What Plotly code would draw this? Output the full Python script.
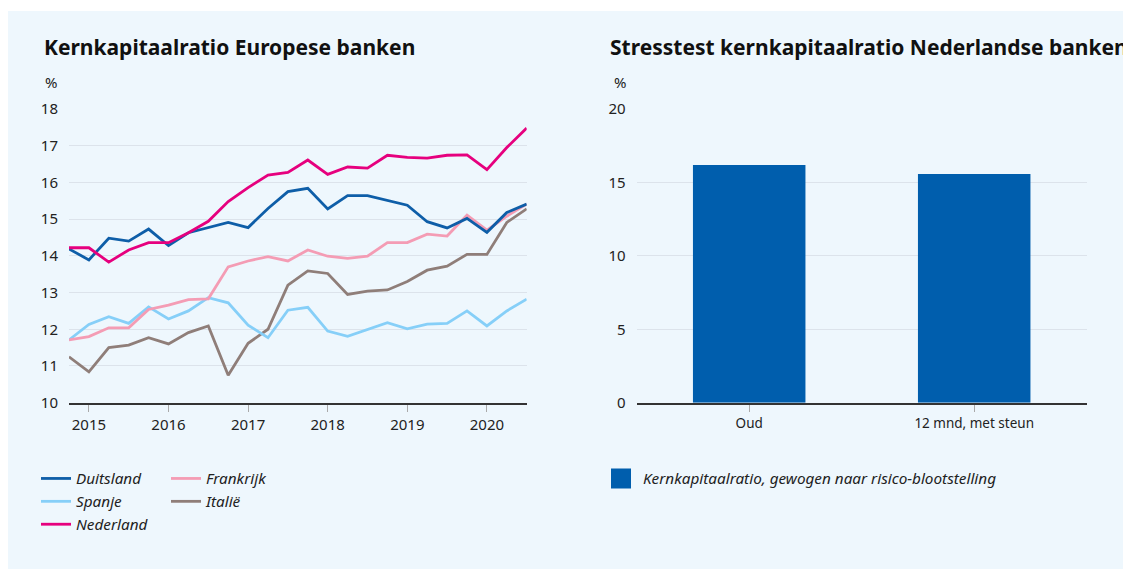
import plotly.graph_objects as go

W, H = 1120, 569

# ---- data ----
quarters = [2014.75 + 0.25 * i for i in range(24)]
duitsland = [14.19, 13.89, 14.48, 14.40, 14.73, 14.28, 14.63, 14.77, 14.91, 14.77, 15.29, 15.75,
             15.84, 15.28, 15.64, 15.64, 15.52, 15.38, 14.93, 14.76, 15.02, 14.64, 15.18, 15.41]
nederland = [14.22, 14.22, 13.83, 14.16, 14.36, 14.36, 14.63, 14.94, 15.48, 15.86, 16.20, 16.27,
             16.61, 16.22, 16.42, 16.39, 16.74, 16.68, 16.66, 16.74, 16.75, 16.35, 16.95, 17.48]
frankrijk = [11.71, 11.80, 12.04, 12.04, 12.54, 12.66, 12.81, 12.83, 13.70, 13.86, 13.98, 13.86,
             14.16, 13.99, 13.93, 13.99, 14.36, 14.36, 14.59, 14.54, 15.11, 14.70, 15.08, 15.41]
spanje = [11.71, 12.13, 12.34, 12.16, 12.61, 12.28, 12.50, 12.86, 12.72, 12.11, 11.77, 12.52,
          12.60, 11.95, 11.81, 12.00, 12.18, 12.01, 12.14, 12.16, 12.50, 12.09, 12.50, 12.82]
italie = [11.25, 10.84, 11.50, 11.57, 11.77, 11.60, 11.91, 12.09, 10.75, 11.62, 12.00, 13.20,
          13.59, 13.52, 12.95, 13.04, 13.07, 13.30, 13.61, 13.72, 14.04, 14.04, 14.91, 15.28]
year_ticks = [2015, 2016, 2017, 2018, 2019, 2020]

bar_categories = ["Oud", "12 mnd, met steun"]
bar_values = [16.19, 15.57]

FONT = "Noto Sans"
TXT = "#222222"
BG = "#EEF7FD"
GRID = "#DCE3EB"

fig = go.Figure()

series = [
    ("Italië", italie, "#8F7E79", "legend2", 2),
    ("Spanje", spanje, "#86CFF8", "legend", 2),
    ("Frankrijk", frankrijk, "#F49CB4", "legend2", 1),
    ("Duitsland", duitsland, "#0E5EA8", "legend", 1),
    ("Nederland", nederland, "#E6007E", "legend", 3),
]
for name, vals, col, leg, rank in series:
    fig.add_trace(go.Scatter(
        x=quarters, y=vals, mode="lines", name=name,
        line=dict(color=col, width=2.8), legend=leg, legendrank=rank,
        xaxis="x", yaxis="y"))

fig.add_trace(go.Bar(
    x=bar_categories, y=bar_values, marker=dict(color="#005EAD", line=dict(width=0)),
    showlegend=False, xaxis="x2", yaxis="y2", name="Kernkapitaalratio, gewogen naar risico-blootstelling"))
# legend entry for bar series
fig.add_trace(go.Scatter(
    x=[None], y=[None], mode="markers", name="Kernkapitaalratio, gewogen naar risico-blootstelling",
    marker=dict(symbol="square", size=16, color="#005EAD", line=dict(color="#005EAD", width=4)),
    legend="legend3", xaxis="x2", yaxis="y2"))

ytop = 1 - 101 / H
ybot = 1 - 394.7 / H

axis_common = dict(tickfont=dict(family=FONT, size=15, color=TXT), automargin=False)
legfont = dict(family=FONT, size=15.3, color=TXT, style="italic")

fig.update_layout(
    width=W, height=H,
    margin=dict(l=0, r=0, t=0, b=0),
    paper_bgcolor="white", plot_bgcolor=BG,
    font=dict(family=FONT, color=TXT),
    bargap=0.5,
    xaxis=dict(domain=[61 / W, 518.7 / W], range=[2014.75, 2020.5], tickvals=year_ticks,
               showgrid=False, zeroline=False, showline=True, linecolor="#333333", linewidth=2,
               ticks="outside", ticklen=7, tickcolor="#AAAAAA", tickwidth=1, **axis_common),
    yaxis=dict(domain=[ybot, ytop], range=[10, 18], dtick=1, showgrid=True, gridcolor=GRID,
               gridwidth=1, zeroline=False, showline=False, ticks="", ticklabelstandoff=10,
               **axis_common),
    xaxis2=dict(domain=[628.7 / W, 1078.7 / W], range=[-0.5, 1.5], anchor="y2",
                showgrid=False, zeroline=False, showline=True, linecolor="#333333", linewidth=2,
                ticks="outside", ticklen=7, tickcolor="#AAAAAA", tickwidth=1,
                tickfont=dict(family=FONT, size=13.5, color=TXT), automargin=False),
    yaxis2=dict(domain=[ybot, ytop], range=[0, 20], dtick=5, anchor="x2", showgrid=True,
                gridcolor=GRID, gridwidth=1, zeroline=False, showline=False, ticks="",
                ticklabelstandoff=10, **axis_common),
    legend=dict(x=28 / W, y=1 - 454 / H, xanchor="left", yanchor="top", orientation="v",
                bgcolor="rgba(0,0,0,0)", font=legfont, tracegroupgap=0, itemwidth=30),
    legend2=dict(x=158 / W, y=1 - 454 / H, xanchor="left", yanchor="top", orientation="v",
                 bgcolor="rgba(0,0,0,0)", font=legfont, tracegroupgap=0, itemwidth=30),
    legend3=dict(x=591 / W, y=1 - 454 / H, xanchor="left", yanchor="top", orientation="v",
                 bgcolor="rgba(0,0,0,0)", font=legfont, itemwidth=34),
    shapes=[dict(type="rect", xref="paper", yref="paper", x0=0, x1=1, y0=0, y1=1 - 3 / H,
                 fillcolor=BG, line=dict(width=0), layer="below")],
    annotations=[
        dict(text="<b>Kernkapitaalratio Europese banken</b>", x=34 / W, y=1 - 39 / H,
             xref="paper", yref="paper", xanchor="left", yanchor="middle", showarrow=False,
             font=dict(family=FONT, size=21, color="#111111")),
        dict(text="<b>Stresstest kernkapitaalratio Nederlandse banken</b>", x=600 / W, y=1 - 39 / H,
             xref="paper", yref="paper", xanchor="left", yanchor="middle", showarrow=False,
             font=dict(family=FONT, size=21, color="#111111")),
        dict(text="%", x=35 / W, y=1 - 74 / H, xref="paper", yref="paper", xanchor="left",
             yanchor="middle", showarrow=False, font=dict(family=FONT, size=15, color=TXT)),
        dict(text="%", x=604 / W, y=1 - 74 / H, xref="paper", yref="paper", xanchor="left",
             yanchor="middle", showarrow=False, font=dict(family=FONT, size=15, color=TXT)),
    ],
)

fig.write_html("out.html")
